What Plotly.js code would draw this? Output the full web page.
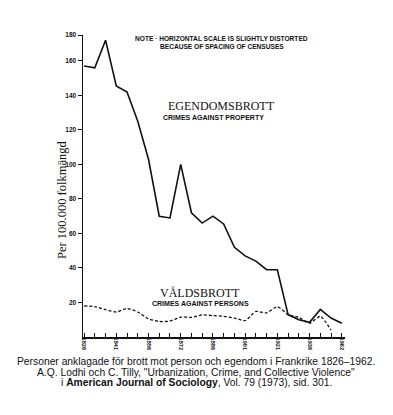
<!DOCTYPE html>
<html><head><meta charset="utf-8">
<script src="https://cdn.plot.ly/plotly-3.0.1.min.js"></script>
<style>html,body{margin:0;padding:0;background:#fff}#chart{width:393px;height:415px}</style>
</head><body><div id="chart"></div>
<script>
const periods = ['1826','1831','1836','1841','1846','1851','1856','1861','1866','1872','1876','1881','1886','1891','1896','1901','1906','1911','1921','1926','1931','1936','1946','1954','1962'];
const propertyCrimes = [157,156,172,145.5,142,125,103,70,69,100,72,66,70,65.5,52,47,44,39,39,13,10,8.5,16,11,8];
const personCrimes = [18,17.6,15.8,14.5,16.5,14.5,10.5,9,9.2,11.5,11.4,12.8,12.4,12,11,9.5,14.8,14,17.5,13,11.4,8,12,4,null];
const labeledPeriods = ['1826','1841','1856','1872','1886','1901','1921','1936','1962'];
const yTickVals = [20,40,60,80,100,120,140,160,175];
const yTickText = ['20','40','60','80','100','120','140','160','180'];

const ink = '#111';
const xTickText = periods.map(p => labeledPeriods.includes(p) ? p : '');

const traces = [
  {x: periods, y: propertyCrimes, type: 'scatter', mode: 'lines', name: 'Egendomsbrott',
   line: {color: ink, width: 1.6}},
  {x: periods, y: personCrimes, type: 'scatter', mode: 'lines', name: 'Våldsbrott',
   line: {color: ink, width: 1.3, dash: '3px,2px', shape: 'spline', smoothing: 0.6}}
];

function ann(text, x, y, font, extra) {
  return Object.assign({text: text, x: x, y: y, xref: 'paper', yref: 'paper',
    xanchor: 'center', yanchor: 'middle', showarrow: false, font: font}, extra || {});
}
const noteFont = {family: 'Liberation Sans, Arial, sans-serif', size: 6.6, color: ink, weight: 'bold'};
const smallCaps = {family: 'Liberation Sans, Arial, sans-serif', size: 7, color: ink, weight: 'bold'};
const serifBig = {family: 'Liberation Serif, Times New Roman, serif', size: 12, color: ink};
const capFont = {family: 'Liberation Sans, Arial, sans-serif', size: 10.3, color: ink};

const layout = {
  width: 393, height: 415,
  margin: {l: 83, r: 48, t: 35, b: 78},
  paper_bgcolor: '#fff', plot_bgcolor: '#fff',
  showlegend: false,
  xaxis: {type: 'category', range: [-0.1, 24.3], tickmode: 'array', tickvals: periods, ticktext: xTickText,
    tickangle: 90, ticks: 'inside', ticklen: 4, tickwidth: 1, tickcolor: ink, ticklabelstandoff: -2,
    showline: true, linecolor: ink, linewidth: 1.5, showgrid: false, zeroline: false,
    tickfont: {family: 'Liberation Sans, Arial, sans-serif', size: 5.6, color: ink, weight: 'bold'}, fixedrange: true},
  yaxis: {range: [0, 175], tickmode: 'array', tickvals: yTickVals, ticktext: yTickText,
    ticks: 'outside', ticklen: 4, tickwidth: 1, tickcolor: ink, ticklabelstandoff: 0,
    showline: true, linecolor: ink, linewidth: 1.5, showgrid: false, zeroline: false,
    tickfont: {family: 'Liberation Sans, Arial, sans-serif', size: 6.5, color: ink, weight: 'bold'}, fixedrange: true},
  annotations: [
    ann('NOTE · HORIZONTAL SCALE IS SLIGHTLY DISTORTED', 0.5305, 0.9877, noteFont),
    ann('BECAUSE OF SPACING OF CENSUSES', 0.5305, 0.9613, noteFont),
    ann('EGENDOMSBROTT', 0.5286, 0.7659, serifBig),
    ann('CRIMES AGAINST PROPERTY', 0.498, 0.7262, smallCaps),
    ann('VÅLDSBROTT', 0.4466, 0.1447, serifBig),
    ann('CRIMES AGAINST PERSONS', 0.4485, 0.1116, smallCaps),
    ann('Per 100.000 folkmängd', -0.0802, 0.4536, {family: 'Liberation Serif, Times New Roman, serif', size: 12.5, color: ink}, {textangle: -90}),
    ann('Personer anklagade för brott mot person och egendom i Frankrike 1826–1962.', 0.4332, -0.0795, capFont),
    ann('A.Q. Lodhi och C. Tilly, "Urbanization, Crime, and Collective Violence"', 0.4332, -0.1159, capFont),
    ann('i <b>American Journal of Sociology</b>, Vol. 79 (1973), sid. 301.', 0.4332, -0.1523, capFont)
  ]
};

Plotly.newPlot('chart', traces, layout, {staticPlot: true, displayModeBar: false});
</script>
</body></html>
